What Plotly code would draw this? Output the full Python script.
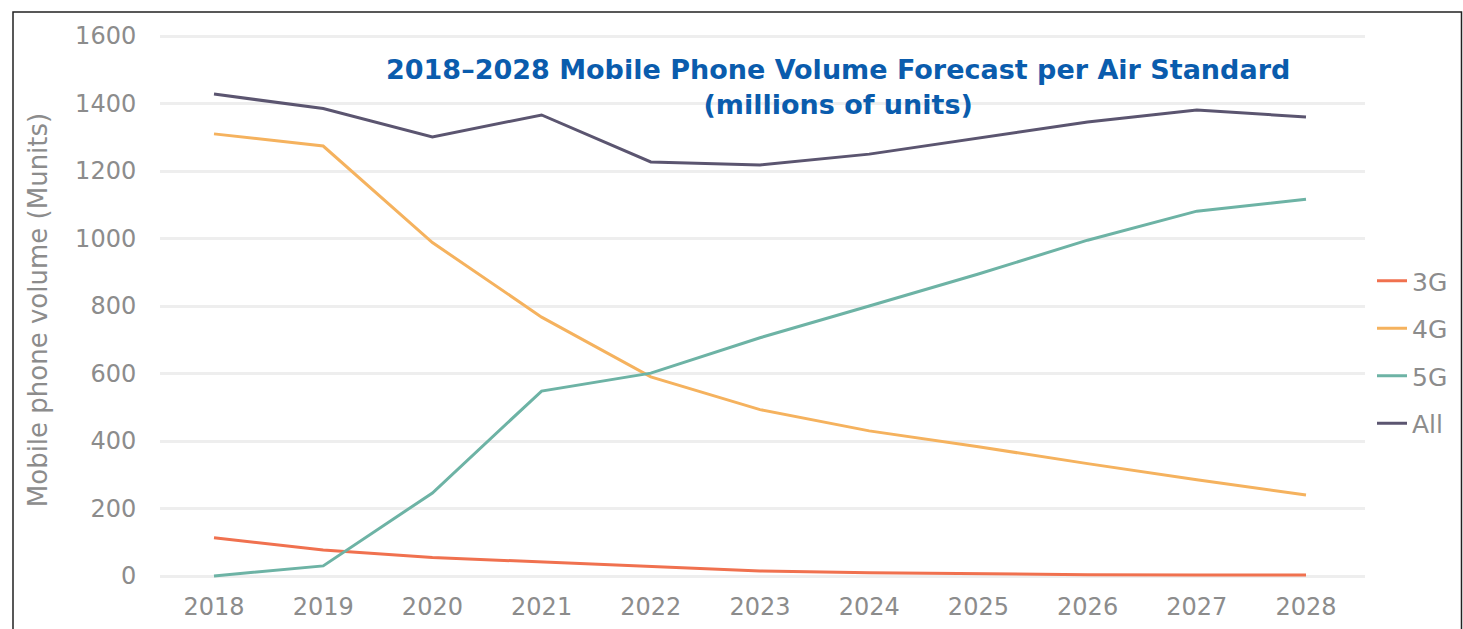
import plotly.graph_objects as go

years = [2018, 2019, 2020, 2021, 2022, 2023, 2024, 2025, 2026, 2027, 2028]
g3 = [113, 77, 55, 41, 27, 15, 10, 6, 4, 3, 3]
g4 = [1310, 1274, 988, 767, 590, 493, 430, 383, 333, 285, 240]
g5 = [0, 30, 246, 548, 601, 706, 800, 895, 995, 1081, 1116]
all_ = [1428, 1385, 1301, 1366, 1227, 1218, 1250, 1297, 1345, 1381, 1360]

series_names = ["3G", "4G", "5G", "All"]
series_colors = ["#f0714f", "#f5b25e", "#6db3a5", "#5b5570"]
y_ticks = [0, 200, 400, 600, 800, 1000, 1200, 1400, 1600]
title_text = "<b>2018–2028 Mobile Phone Volume Forecast per Air Standard<br>(millions of units)</b>"
y_title = "Mobile phone volume (Munits)"

W, H = 1463, 629
L, R, T, B = 160, 98, 30, 39
pw, ph = W - L - R, H - T - B

# pixel mapping helpers for layout (not data)
px_per_year = (1306 - 214) / 10
x_range = [2018 - (214 - L) / px_per_year, 2028 + (W - R - 1306) / px_per_year]
px_per_unit = (576 - 36) / 1600
y_range = [-(T + ph - 576) / px_per_unit, 1600 + (36 - T) / px_per_unit]

fig = go.Figure()
for name, vals, col in zip(series_names, [g3, g4, g5, all_], series_colors):
    fig.add_trace(go.Scatter(x=years, y=vals, mode="lines", name=name,
                             legendgroup=name,
                             line=dict(color=col, width=3)))

def px2paperx(px):
    return (px - L) / pw

def px2papery(py):
    return (T + ph - py) / ph

tick_font = dict(family="DejaVu Sans", size=24, color="#8c8c8c")

fig.update_layout(
    width=W, height=H,
    margin=dict(l=L, r=R, t=T, b=B, autoexpand=False),
    paper_bgcolor="white", plot_bgcolor="white",
    showlegend=True,
    legend=dict(x=px2paperx(1372), y=px2papery(258), xanchor="left", yanchor="top",
                font=dict(family="DejaVu Sans", size=25, color="#8c8c8c"),
                traceorder="grouped", tracegroupgap=12, itemwidth=30,
                bgcolor="rgba(0,0,0,0)"),
    xaxis=dict(range=x_range, tickmode="array", tickvals=years,
               ticktext=[str(y) for y in years], showgrid=False, zeroline=False,
               showline=False, ticks="", tickfont=tick_font),
    yaxis=dict(range=y_range, tickmode="array", tickvals=y_ticks,
               showgrid=True, gridcolor="#eeeeee", gridwidth=3, zeroline=False,
               showline=False, ticks="outside", ticklen=18, tickcolor="rgba(0,0,0,0)",
               tickfont=tick_font,
               title=dict(text=y_title, standoff=20,
                          font=dict(family="DejaVu Sans", size=26, color="#8c8c8c"))),
    annotations=[dict(text=title_text, xref="paper", yref="paper",
                      x=px2paperx(838), y=px2papery(87), xanchor="center", yanchor="middle",
                      showarrow=False,
                      font=dict(family="DejaVu Sans", size=27, color="#0a5cad"))],
    shapes=[dict(type="path", xref="paper", yref="paper",
                 path="M {} {} L {} {} L {} {} L {} {}".format(
                     px2paperx(13), px2papery(640), px2paperx(13), px2papery(12),
                     px2paperx(1461.5), px2papery(12), px2paperx(1461.5), px2papery(640)),
                 line=dict(color="#222222", width=1.5))],
)

fig.write_html("out.html", config={"displayModeBar": False},
               post_script="document.body.style.margin='0';document.body.style.overflow='hidden';")
